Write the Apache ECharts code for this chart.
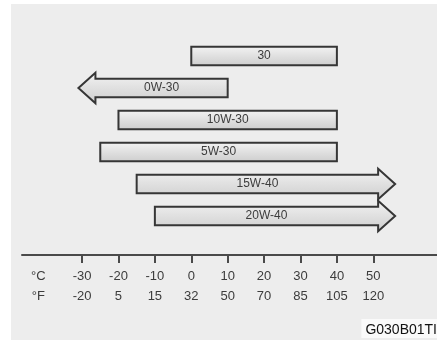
<!DOCTYPE html>
<html>
<head>
<meta charset="utf-8">
<script src="https://cdn.jsdelivr.net/npm/echarts@6/dist/echarts.min.js"></script>
<style>
  html, body { margin: 0; padding: 0; background: #fff; }
  #chart { width: 437px; height: 340px; }
</style>
</head>
<body>
<div id="chart"></div>
<script>
// Oil grades and their usable ambient temperature ranges (°C)
const grades = ['30', '0W-30', '10W-30', '5W-30', '15W-40', '20W-40'];
const rangeFrom = [0, -31, -20, -25, -15, -10];
const rangeTo = [40, 10, 40, 40, 56, 56];
// 'bar' = closed range, 'left'/'right' = range continues past that end
const rangeKind = ['bar', 'left', 'bar', 'bar', 'right', 'right'];

// Temperature scale tick labels
const tickCelsius = [-30, -20, -10, 0, 10, 20, 30, 40, 50];
const tickFahrenheit = ['-20', '5', '15', '32', '50', '70', '85', '105', '120'];
const unitPos = -42;

const chart = echarts.init(document.getElementById('chart'), null, { renderer: 'canvas' });

const barFill = new echarts.graphic.LinearGradient(0, 0, 0, 1, [
  { offset: 0, color: '#f4f4f4' },
  { offset: 0.5, color: '#e0e0e0' },
  { offset: 1, color: '#cdcdcd' }
]);

function renderRange(params, api) {
  const idx = api.value(2);
  const kind = rangeKind[idx];
  const p0 = api.coord([api.value(0), idx]);
  const p1 = api.coord([api.value(1), idx]);
  const band = api.size([0, 1])[1];
  const cy = p0[1];
  const half = band * 0.29;
  const headHalf = band * 0.48;
  const headLen = 17;
  let x0 = p0[0], x1 = p1[0];
  let bodyL = x0, bodyR = x1;
  let pts;
  if (kind === 'left') {
    bodyL = x0 + headLen;
    pts = [[x0, cy], [bodyL, cy - headHalf], [bodyL, cy - half], [x1, cy - half],
           [x1, cy + half], [bodyL, cy + half], [bodyL, cy + headHalf]];
  } else if (kind === 'right') {
    bodyR = x1 - headLen;
    pts = [[x0, cy - half], [bodyR, cy - half], [bodyR, cy - headHalf], [x1, cy],
           [bodyR, cy + headHalf], [bodyR, cy + half], [x0, cy + half]];
  } else {
    pts = [[x0, cy - half], [x1, cy - half], [x1, cy + half], [x0, cy + half]];
  }
  return {
    type: 'group',
    children: [
      {
        type: 'polygon',
        shape: { points: pts },
        style: { fill: barFill, stroke: '#363636', lineWidth: 2, lineJoin: 'miter' }
      },
      {
        type: 'text',
        x: (bodyL + bodyR) / 2,
        y: cy,
        style: {
          text: grades[idx],
          fill: '#3c3c3c',
          font: '12px "Liberation Sans", Arial, sans-serif',
          align: 'center',
          verticalAlign: 'middle'
        }
      }
    ]
  };
}

const option = {
  backgroundColor: '#ededed',
  animation: false,
  grid: { left: 22, right: 0, top: 40, height: 192 },
  xAxis: {
    type: 'value',
    min: -46.5,
    max: 67.5,
    offset: 23,
    splitLine: { show: false },
    axisLine: { show: true, lineStyle: { color: '#4a4a4a', width: 2 } },
    axisTick: {
      show: true,
      customValues: tickCelsius,
      length: 8,
      lineStyle: { color: '#4a4a4a', width: 2 }
    },
    axisLabel: {
      customValues: [unitPos].concat(tickCelsius),
      margin: 11,
      formatter: function (v) {
        if (v === unitPos) return '{t|°C}\n{t|°F}';
        const i = tickCelsius.indexOf(v);
        return '{t|' + tickCelsius[i] + '}\n{t|' + tickFahrenheit[i] + '}';
      },
      rich: {
        t: {
          fontSize: 13,
          lineHeight: 20,
          color: '#3c3c3c',
          fontFamily: '"Liberation Sans", Arial, sans-serif',
          align: 'center'
        }
      }
    }
  },
  yAxis: {
    type: 'category',
    data: grades,
    inverse: true,
    show: false
  },
  graphic: [
    { type: 'rect', left: 0, top: 0, shape: { width: 11, height: 340 }, style: { fill: '#fff' } },
    { type: 'rect', left: 0, top: 0, shape: { width: 437, height: 4 }, style: { fill: '#fff' } },
    {
      type: 'text',
      right: 0,
      bottom: 2,
      style: {
        text: 'G030B01TI',
        fill: '#111',
        font: '14px "Liberation Sans", Arial, sans-serif',
        backgroundColor: '#fafafa',
        padding: [4, 0, 1, 4]
      }
    }
  ],
  series: [{
    type: 'custom',
    renderItem: renderRange,
    encode: { x: [0, 1], y: 2 },
    data: grades.map(function (g, i) { return [rangeFrom[i], rangeTo[i], i]; })
  }]
};

chart.setOption(option);
</script>
</body>
</html>
